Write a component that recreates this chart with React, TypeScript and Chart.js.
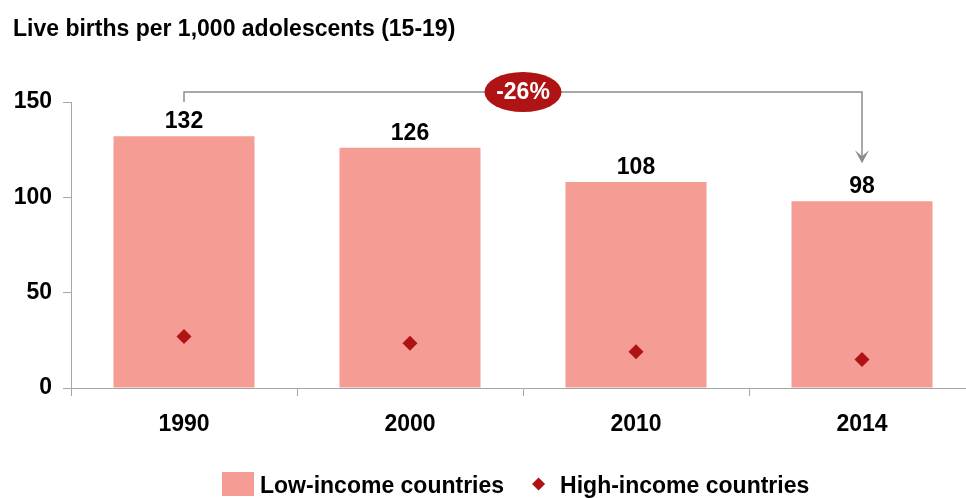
import { useEffect, useRef } from "react";
import { Chart, registerables } from "chart.js";

Chart.register(...registerables);

const years = ["1990", "2000", "2010", "2014"];
const lowIncome = [132, 126, 108, 98];
const highIncome = [27, 23.5, 19, 15];
const yTicks = [0, 50, 100, 150];

const FONT = "'Liberation Sans', Arial, sans-serif";
const BAR = "#F59C95";
const DARK_RED = "#B01313";
const AXIS = "#A6A6A6";

// labels, bracket with the change pill, and the legend
const overlayPlugin = {
  id: "overlay",
  afterDraw(chart: Chart) {
    const { ctx, chartArea } = chart;
    const bars = chart.getDatasetMeta(1).data;
    ctx.save();

    // value labels above bars
    ctx.fillStyle = "#000";
    ctx.font = `bold 23px ${FONT}`;
    ctx.textAlign = "center";
    ctx.textBaseline = "alphabetic";
    bars.forEach((el: any, i: number) => {
      ctx.fillText(String(lowIncome[i]), el.x, el.y - 8);
    });

    // bracket 1990 -> 2014
    const first: any = bars[0];
    const last: any = bars[bars.length - 1];
    const yTop = chartArea.top - 10;
    const tip = last.y - 38;
    ctx.strokeStyle = "#8C8C8C";
    ctx.lineWidth = 1.5;
    ctx.beginPath();
    ctx.moveTo(first.x, chartArea.top);
    ctx.lineTo(first.x, yTop);
    ctx.lineTo(last.x, yTop);
    ctx.lineTo(last.x, tip - 4);
    ctx.stroke();
    ctx.fillStyle = "#8C8C8C";
    ctx.beginPath();
    ctx.moveTo(last.x - 7, tip - 13);
    ctx.lineTo(last.x, tip);
    ctx.lineTo(last.x + 7, tip - 13);
    ctx.lineTo(last.x, tip - 7);
    ctx.closePath();
    ctx.fill();

    const change = Math.round(
      ((lowIncome[lowIncome.length - 1] - lowIncome[0]) / lowIncome[0]) * 100
    );
    const cx = (first.x + last.x) / 2;
    ctx.fillStyle = DARK_RED;
    ctx.beginPath();
    ctx.ellipse(cx, yTop, 38.5, 20, 0, 0, Math.PI * 2);
    ctx.fill();
    ctx.fillStyle = "#fff";
    ctx.textBaseline = "middle";
    ctx.fillText(`${change}%`, cx, yTop + 1);

    // legend
    const ly = 487;
    let x = 222;
    ctx.fillStyle = BAR;
    ctx.fillRect(x, ly - 15, 32, 24);
    x += 38;
    ctx.fillStyle = "#000";
    ctx.textAlign = "left";
    const lowLabel = chart.data.datasets[1].label as string;
    const highLabel = chart.data.datasets[0].label as string;
    ctx.fillText(lowLabel, x, ly);
    x += ctx.measureText(lowLabel).width + 28;
    ctx.fillStyle = DARK_RED;
    ctx.beginPath();
    ctx.moveTo(x + 6.5, ly - 9.5);
    ctx.lineTo(x + 13, ly - 3);
    ctx.lineTo(x + 6.5, ly + 3.5);
    ctx.lineTo(x, ly - 3);
    ctx.closePath();
    ctx.fill();
    x += 28;
    ctx.fillStyle = "#000";
    ctx.fillText(highLabel, x, ly);

    ctx.restore();
  },
};

export default function App() {
  const canvasRef = useRef<HTMLCanvasElement | null>(null);
  const chartRef = useRef<Chart | null>(null);

  useEffect(() => {
    if (!canvasRef.current) return;
    chartRef.current?.destroy();

    chartRef.current = new Chart(canvasRef.current, {
      type: "bar",
      data: {
        labels: years,
        datasets: [
          {
            type: "line",
            label: "High-income countries",
            data: highIncome,
            showLine: false,
            pointStyle: "rectRot",
            pointRadius: 7.5,
            pointBorderWidth: 0,
            backgroundColor: DARK_RED,
            borderColor: DARK_RED,
            order: 1,
          } as any,
          {
            type: "bar",
            label: "Low-income countries",
            data: lowIncome,
            backgroundColor: BAR,
            borderWidth: 0,
            barPercentage: 0.624,
            categoryPercentage: 1,
            order: 2,
          },
        ],
      },
      options: {
        responsive: true,
        maintainAspectRatio: false,
        animation: false,
        layout: { padding: { left: 13, right: 15, top: 0, bottom: 0 } },
        plugins: {
          legend: { display: false },
          tooltip: { enabled: false },
          title: {
            display: true,
            text: "Live births per 1,000 adolescents (15-19)",
            align: "start",
            color: "#000",
            font: { family: FONT, size: 23, weight: "bold" },
            padding: { top: 16, bottom: 58.4 },
          },
        },
        scales: {
          x: {
            grid: {
              offset: true,
              drawOnChartArea: false,
              tickLength: 8,
              color: AXIS,
            },
            border: { color: AXIS },
            ticks: {
              color: "#000",
              font: { family: FONT, size: 23, weight: "bold" },
              padding: 15,
            },
            afterFit: (s: any) => {
              s.height = 110;
            },
          },
          y: {
            min: 0,
            max: 150,
            afterBuildTicks: (s: any) => {
              s.ticks = yTicks.map((v) => ({ value: v }));
            },
            grid: { drawOnChartArea: false, tickLength: 8, color: AXIS },
            border: { color: AXIS },
            ticks: {
              color: "#000",
              font: { family: FONT, size: 23, weight: "bold" },
              padding: 11,
            },
            afterFit: (s: any) => {
              s.width = 58;
            },
          },
        },
      },
      plugins: [overlayPlugin],
    });

    return () => chartRef.current?.destroy();
  }, []);

  return (
    <div
      style={{
        position: "fixed",
        left: 0,
        top: 0,
        width: 966,
        height: 498,
        overflow: "hidden",
        background: "#fff",
      }}
    >
      <div style={{ width: 990, height: 498, position: "relative" }}>
        <canvas ref={canvasRef} />
      </div>
    </div>
  );
}
